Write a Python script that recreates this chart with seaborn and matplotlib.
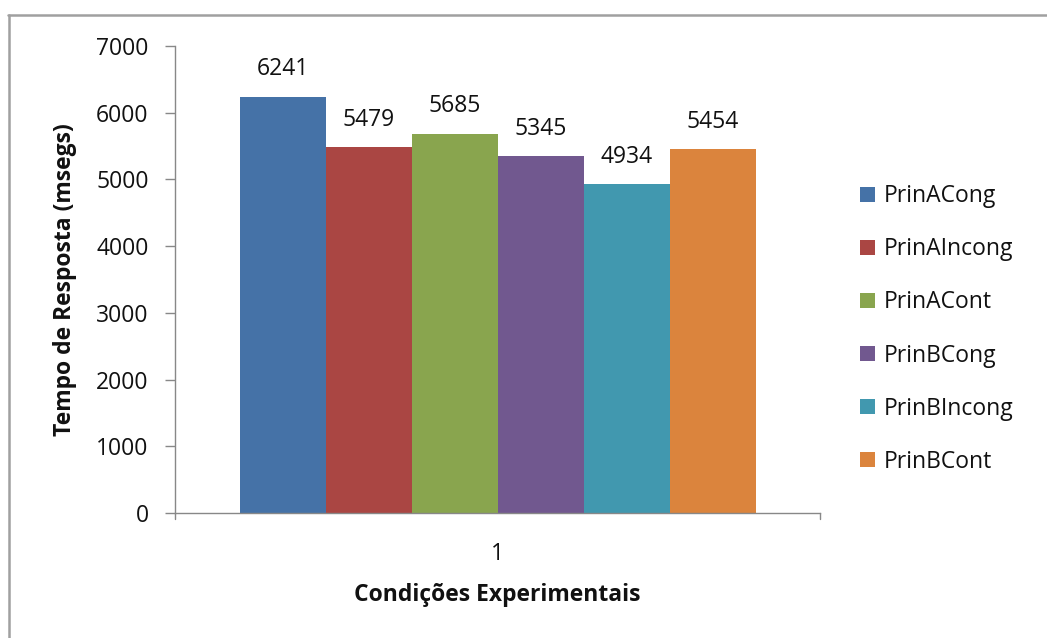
import matplotlib
matplotlib.use("Agg")
import matplotlib.pyplot as plt
import seaborn as sns
import pandas as pd
from matplotlib.lines import Line2D

# Mean response times per experimental condition
condition = ["1"]
series = ["PrinACong", "PrinAIncong", "PrinACont", "PrinBCong", "PrinBIncong", "PrinBCont"]
values = [6241, 5479, 5685, 5345, 4934, 5454]
colors = ["#4572A7", "#AA4643", "#89A54E", "#71588F", "#4198AF", "#DB843D"]
yticks = [0, 1000, 2000, 3000, 4000, 5000, 6000, 7000]

df = pd.DataFrame({"cond": condition * len(series), "serie": series, "tempo": values})

sns.set_theme(style="white")
plt.rcParams["font.family"] = ["Open Sans", "DejaVu Sans"]

FS = 16.5
TXT = "#111111"

fig = plt.figure(figsize=(10.47, 6.38), dpi=100)
ax = fig.add_axes([175 / 1047, 1 - 513 / 638, 645 / 1047, 467 / 638])

sns.barplot(data=df, x="cond", y="tempo", hue="serie", hue_order=series,
            palette=colors, width=0.8, saturation=1, ax=ax, errorbar=None,
            linewidth=0)

for container in ax.containers:
    ax.bar_label(container, fmt="%d", padding=11, fontsize=FS, color=TXT)

ax.set_ylim(0, 7000)
ax.set_xlim(-0.5, 0.5)
ax.set_yticks(yticks)
ax.set_yticklabels([str(t) for t in yticks], fontsize=FS, color=TXT)
ax.set_xticks([0])
ax.set_xticklabels(condition, fontsize=FS, color=TXT)
ax.tick_params(axis="y", direction="out", length=7, width=1, color="#888888", pad=12, left=True)
ax.tick_params(axis="x", length=0, pad=21)

# end ticks on the category axis
ax.plot([-0.5, -0.5], [0, -90], color="#888888", lw=1, clip_on=False)
ax.plot([0.5, 0.5], [0, -90], color="#888888", lw=1, clip_on=False)

for s in ["top", "right"]:
    ax.spines[s].set_visible(False)
for s in ["left", "bottom"]:
    ax.spines[s].set_color("#888888")
    ax.spines[s].set_linewidth(1)

ax.set_ylabel("Tempo de Resposta (msegs)", fontsize=FS, fontweight="bold",
              color=TXT, labelpad=14)
ax.set_xlabel("Condições Experimentais", fontsize=FS, fontweight="bold",
              color=TXT, labelpad=12)

ax.legend(loc="center left", bbox_to_anchor=(1.03, 0.394), frameon=False,
          fontsize=FS, handlelength=0.65, handleheight=0.65, handletextpad=0.4,
          labelspacing=1.27, labelcolor=TXT)

# chart area frame
fig.add_artist(Line2D([8 / 1047, 1.0], [1 - 14.5 / 638] * 2,
                      transform=fig.transFigure, color="#a0a0a0", lw=1.8))
fig.add_artist(Line2D([8.5 / 1047] * 2, [0.0, 1 - 14.5 / 638],
                      transform=fig.transFigure, color="#a0a0a0", lw=1.8))

fig.savefig("out.png", dpi=100)
